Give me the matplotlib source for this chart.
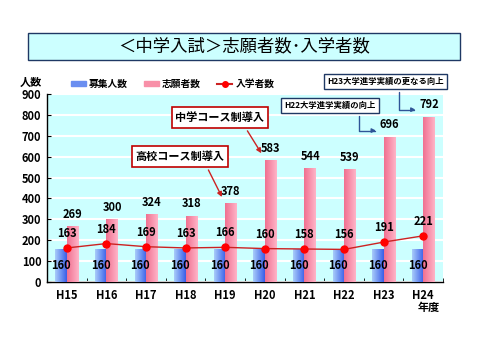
import numpy as np
import matplotlib.pyplot as plt
from matplotlib.colors import LinearSegmentedColormap
from matplotlib.patches import Rectangle

plt.rcParams['font.family'] = ['Noto Sans CJK JP', 'DejaVu Sans']
plt.rcParams['font.weight'] = 'bold'

years = ['H15', 'H16', 'H17', 'H18', 'H19', 'H20', 'H21', 'H22', 'H23', 'H24']
quota = [160, 160, 160, 160, 160, 160, 160, 160, 160, 160]
applicants = [269, 300, 324, 318, 378, 583, 544, 539, 696, 792]
entrants = [163, 184, 169, 163, 166, 160, 158, 156, 191, 221]

fig = plt.figure(figsize=(4.85, 3.6), dpi=100)
ax = fig.add_axes([47 / 485, 1 - 282 / 360, 396 / 485, 188 / 360])
ax.set_facecolor('#ccffff')

x = np.arange(len(years))
w = 0.29

blue_cm = LinearSegmentedColormap.from_list('b', ['#a8ccfa', '#3a5ee8'])
pink_cm = LinearSegmentedColormap.from_list('p', ['#f07090', '#ffb4c8'])
grad = np.linspace(0, 1, 64).reshape(1, -1)


def grad_bars(xs, hs, cmap, color, zorder=3):
    bars = ax.bar(xs, hs, width=w, color=color, zorder=zorder, linewidth=0)
    for b in bars:
        x0, y0 = b.get_x(), b.get_y()
        im = ax.imshow(grad, cmap=cmap, aspect='auto', zorder=zorder + 0.1,
                       extent=(x0, x0 + b.get_width(), y0, y0 + b.get_height()))
        im.set_clip_path(b)
    return bars


grad_bars(x - w / 2, quota, blue_cm, '#6688ee')
grad_bars(x + w / 2, applicants, pink_cm, '#ff90a8')

ax.plot(x, entrants, color='#cc2222', linewidth=1, marker='o', markersize=5,
        markerfacecolor='#ff0000', markeredgecolor='#ff0000', zorder=5)

for i in x:
    ax.text(i - w / 2, 80, str(quota[i]), ha='center', va='center',
            fontsize=8, fontweight='bold', zorder=6)
    ax.text(i + w / 2, applicants[i] + 25, str(applicants[i]), ha='center',
            va='bottom', fontsize=8, fontweight='bold', zorder=6)
    ax.text(i, entrants[i] + 38, str(entrants[i]), ha='center', va='bottom',
            fontsize=8, fontweight='bold', zorder=6)

ax.set_xlim(-0.5, len(years) - 0.5)
ax.set_ylim(0, 900)
ax.set_yticks(range(0, 901, 100))
ax.yaxis.grid(True, color='white', linewidth=1.5)
ax.set_axisbelow(True)
ax.set_xticks(x)
ax.set_xticklabels(years)
ax.set_xticks(np.arange(-0.5, len(years), 1), minor=True)
ax.tick_params(axis='x', which='major', length=0, pad=5, labelsize=8)
ax.tick_params(axis='x', which='minor', length=3, direction='in')
ax.tick_params(axis='y', length=3, direction='in', labelsize=8, pad=4)
for lab in ax.get_xticklabels() + ax.get_yticklabels():
    lab.set_fontweight('bold')
for s in ['top', 'right']:
    ax.spines[s].set_visible(False)
for s in ['left', 'bottom']:
    ax.spines[s].set_color('black')
    ax.spines[s].set_linewidth(1)

# title box
fig.patches.append(Rectangle((28 / 485, 1 - 60 / 360), 432 / 485, 27 / 360,
                             transform=fig.transFigure, facecolor='#ccffff',
                             edgecolor='#1f3864', linewidth=1))
fig.text(244 / 485, 1 - 46.5 / 360, '＜中学入試＞志願者数･入学者数', ha='center',
         va='center', fontsize=12.5, fontweight='normal')

# legend
fig.text(20 / 485, 1 - 82 / 360, '人数', fontsize=8, va='center', fontweight='bold')
handles = [Rectangle((0, 0), 1, 1, color='#6a8ef0'),
           Rectangle((0, 0), 1, 1, color='#f890a8'),
           plt.Line2D([], [], color='#cc2222', marker='o', markersize=4,
                      markerfacecolor='#ff0000', markeredgecolor='#ff0000')]
fig.legend(handles, ['募集人数', '志願者数', '入学者数'], loc='center left',
           bbox_to_anchor=(62 / 485, 1 - 84 / 360), ncol=3, frameon=False,
           handlelength=1.6, handleheight=0.5, columnspacing=1.6,
           handletextpad=0.3, prop={'weight': 'bold', 'size': 7})

fig.text(418 / 485, 1 - 307 / 360, '年度', fontsize=8, va='center', fontweight='bold')


# annotations
def ax_frac(px, py):
    return ((px - 47) / 396, (282 - py) / 188)


red_box = dict(boxstyle='square,pad=0.35', facecolor='white', edgecolor='#c00000', linewidth=1.2)
ax.annotate('高校コース制導入', xy=(4 - 0.05, 395), xycoords='data',
            xytext=ax_frac(180, 156.5), textcoords='axes fraction',
            ha='center', va='center', fontsize=8, fontweight='bold', bbox=red_box,
            arrowprops=dict(arrowstyle='-|>', color='#cc2222', lw=1,
                            relpos=(0.78, 0), mutation_scale=7), zorder=8)
ax.annotate('中学コース制導入', xy=(5 - 0.05, 605), xycoords='data',
            xytext=ax_frac(220, 117.5), textcoords='axes fraction',
            ha='center', va='center', fontsize=8, fontweight='bold', bbox=red_box,
            arrowprops=dict(arrowstyle='-|>', color='#cc2222', lw=1,
                            relpos=(0.76, 0), mutation_scale=7), zorder=8)

blue_box = dict(boxstyle='square,pad=0.35', facecolor='white', edgecolor='#1f3864', linewidth=1)
ax.annotate('H22大学進学実績の向上', xy=(8 - 0.12, 725), xycoords='data',
            xytext=ax_frac(330, 105.5), textcoords='axes fraction',
            ha='center', va='center', fontsize=6, fontweight='bold', bbox=blue_box,
            arrowprops=dict(arrowstyle='-|>', color='#2f5597', lw=1,
                            relpos=(0.82, 0), mutation_scale=6,
                            connectionstyle='angle,angleA=90,angleB=0,rad=0'),
            annotation_clip=False, zorder=8)
ax.annotate('H23大学進学実績の更なる向上', xy=(9 - 0.12, 825), xycoords='data',
            xytext=ax_frac(385.5, 81.5), textcoords='axes fraction',
            ha='center', va='center', fontsize=6, fontweight='bold', bbox=blue_box,
            arrowprops=dict(arrowstyle='-|>', color='#2f5597', lw=1,
                            relpos=(0.62, 0), mutation_scale=6,
                            connectionstyle='angle,angleA=90,angleB=0,rad=0'),
            annotation_clip=False, zorder=8)

fig.savefig('out.png', dpi=100)
